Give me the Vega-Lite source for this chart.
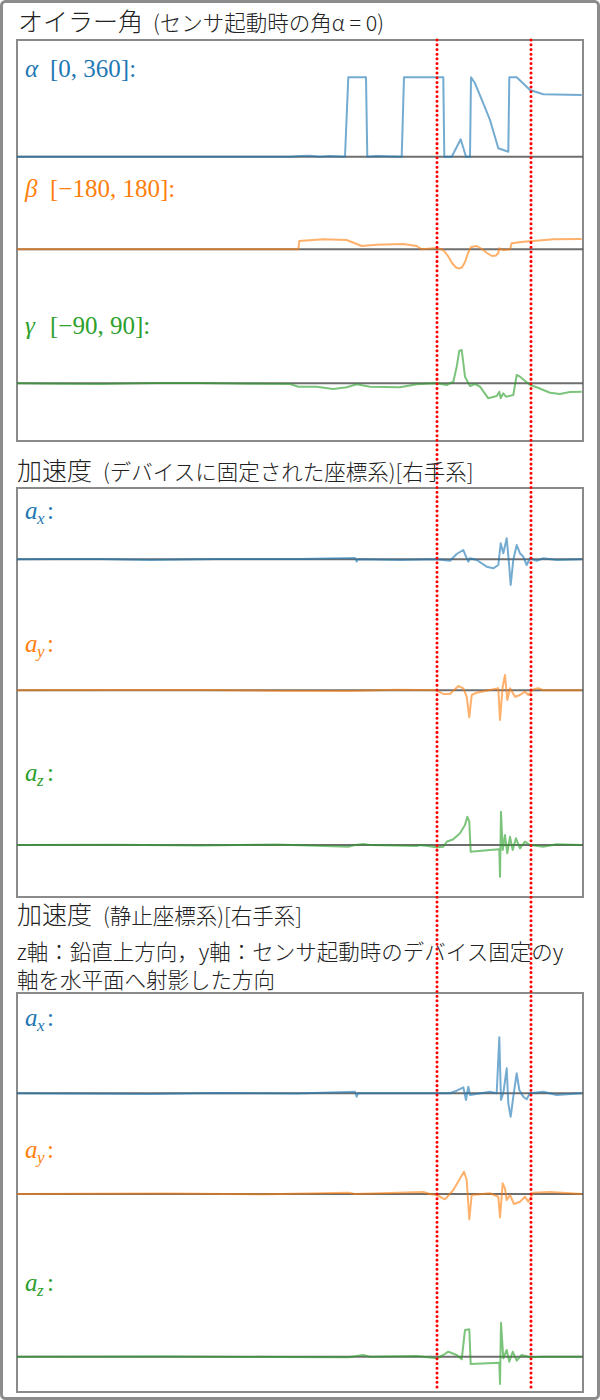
{
"$schema": "https://vega.github.io/schema/vega-lite/v6.json",
"width": 600, "height": 1400,
"autosize": {"type": "fit", "contains": "padding"},
"padding": 0,
"background": "white",
"config": {"view": {"stroke": null}},
"datasets": {
"tracks": [
{"s":"alpha","base":1243.3},{"s":"beta","base":1150.7},{"s":"gamma","base":1016.7},
{"s":"ax1","base":840.7},{"s":"ay1","base":709.7},{"s":"az1","base":555},
{"s":"ax2","base":306.7},{"s":"ay2","base":206},{"s":"az2","base":43.3}],
"panels": [{"p":1,"top":1360,"bot":959},{"p":2,"top":912,"bot":503},{"p":3,"top":407,"bot":8}],
"marks": [{"i":420},{"i":514}],
"bigTitles": [{"txt":"オイラー角","i":1,"y":1369},{"txt":"加速度","i":0,"y":920},{"txt":"加速度","i":0,"y":476}],
"smallTitles": [{"txt":"(センサ起動時の角α = 0)","i":136,"y":1369},{"txt":"(デバイスに固定された座標系)[右手系]","i":86,"y":920},{"txt":"(静止座標系)[右手系]","i":86,"y":476},{"txt":"z軸：鉛直上方向，y軸：センサ起動時のデバイス固定のy","i":0,"y":440},{"txt":"軸を水平面へ射影した方向","i":0,"y":412}],
"glab": [{"s":"alpha","sym":"α","rest":"[0, 360]:","i":8,"y":1323},{"s":"beta","sym":"β","rest":"[−180, 180]:","i":8,"y":1203},{"s":"gamma","sym":"γ","rest":"[−90, 90]:","i":8,"y":1066}],
"alab": [{"s":"ax1","sub":"x","i":8,"y":881},{"s":"ay1","sub":"y","i":8,"y":748},{"s":"az1","sub":"z","i":8,"y":619},{"s":"ax2","sub":"x","i":8,"y":374},{"s":"ay2","sub":"y","i":8,"y":242},{"s":"az2","sub":"z","i":8,"y":109}],
"sig": [
{"s":"alpha","i":0,"v":0},{"s":"alpha","i":273,"v":0},{"s":"alpha","i":283,"v":0.7},{"s":"alpha","i":293,"v":1},{"s":"alpha","i":303,"v":0},{"s":"alpha","i":313,"v":0.8},{"s":"alpha","i":328,"v":0},{"s":"alpha","i":331.3,"v":79.4},{"s":"alpha","i":349,"v":79.4},{"s":"alpha","i":350.3,"v":0},{"s":"alpha","i":360,"v":0.6},{"s":"alpha","i":384.7,"v":0},{"s":"alpha","i":387,"v":79.4},{"s":"alpha","i":426.3,"v":79.4},{"s":"alpha","i":427.3,"v":0},{"s":"alpha","i":434.7,"v":0},{"s":"alpha","i":443.7,"v":17.4},{"s":"alpha","i":449,"v":0},{"s":"alpha","i":453,"v":0},{"s":"alpha","i":454,"v":79.4},{"s":"alpha","i":458,"v":73.4},{"s":"alpha","i":466.3,"v":53.4},{"s":"alpha","i":473,"v":36.7},{"s":"alpha","i":481.3,"v":8.4},{"s":"alpha","i":491.3,"v":5},{"s":"alpha","i":492.3,"v":79.4},{"s":"alpha","i":499.7,"v":79.4},{"s":"alpha","i":513,"v":66.7},{"s":"alpha","i":526.3,"v":62.4},{"s":"alpha","i":564.7,"v":61.7},
{"s":"beta","i":0,"v":0},{"s":"beta","i":281.3,"v":0},{"s":"beta","i":282.3,"v":8.3},{"s":"beta","i":306.3,"v":10},{"s":"beta","i":329.7,"v":9.3},{"s":"beta","i":344.7,"v":3.3},{"s":"beta","i":359.7,"v":4.6},{"s":"beta","i":386.3,"v":5.3},{"s":"beta","i":399.7,"v":3.3},{"s":"beta","i":404.7,"v":0},{"s":"beta","i":419.7,"v":1.3},{"s":"beta","i":426.3,"v":-0.7},{"s":"beta","i":431,"v":-6.7},{"s":"beta","i":435,"v":-13.7},{"s":"beta","i":439,"v":-18.2},{"s":"beta","i":442,"v":-19.2},{"s":"beta","i":445,"v":-18.2},{"s":"beta","i":448,"v":-12.7},{"s":"beta","i":451,"v":-3.7},{"s":"beta","i":454,"v":2.3},{"s":"beta","i":459.7,"v":3.3},{"s":"beta","i":465,"v":0.3},{"s":"beta","i":470,"v":-3.7},{"s":"beta","i":475,"v":-6.7},{"s":"beta","i":479,"v":-6.2},{"s":"beta","i":481.3,"v":-3.7},{"s":"beta","i":482.3,"v":1},{"s":"beta","i":486.3,"v":-0.7},{"s":"beta","i":493,"v":0},{"s":"beta","i":494.7,"v":6},{"s":"beta","i":506.3,"v":7.6},{"s":"beta","i":516.3,"v":8.3},{"s":"beta","i":536.3,"v":10},{"s":"beta","i":564.7,"v":10.3},
{"s":"gamma","i":0,"v":0},{"s":"gamma","i":40,"v":-0.5},{"s":"gamma","i":83,"v":-0.7},{"s":"gamma","i":140,"v":0.3},{"s":"gamma","i":183,"v":0.3},{"s":"gamma","i":230,"v":-0.5},{"s":"gamma","i":273,"v":-0.7},{"s":"gamma","i":281.3,"v":-3.4},{"s":"gamma","i":299.7,"v":-3.4},{"s":"gamma","i":316.3,"v":-5.7},{"s":"gamma","i":329.7,"v":-4},{"s":"gamma","i":339.7,"v":-1},{"s":"gamma","i":353,"v":-3.4},{"s":"gamma","i":383,"v":-4},{"s":"gamma","i":399.7,"v":-1},{"s":"gamma","i":419.7,"v":0},{"s":"gamma","i":429.7,"v":-1.7},{"s":"gamma","i":436.3,"v":1.6},{"s":"gamma","i":439.7,"v":16.6},{"s":"gamma","i":442.3,"v":32.6},{"s":"gamma","i":444.7,"v":33.3},{"s":"gamma","i":448,"v":6.6},{"s":"gamma","i":453,"v":-2.7},{"s":"gamma","i":458,"v":-0.7},{"s":"gamma","i":463,"v":-3.4},{"s":"gamma","i":471.3,"v":-15},{"s":"gamma","i":479.7,"v":-12.7},{"s":"gamma","i":482.3,"v":-8.4},{"s":"gamma","i":483.7,"v":-15},{"s":"gamma","i":486.3,"v":-10},{"s":"gamma","i":489,"v":-13.4},{"s":"gamma","i":496.3,"v":-11.7},{"s":"gamma","i":499.7,"v":8.3},{"s":"gamma","i":503,"v":6.6},{"s":"gamma","i":513,"v":-1.7},{"s":"gamma","i":519.7,"v":-4},{"s":"gamma","i":533,"v":-9.4},{"s":"gamma","i":543,"v":-10.7},{"s":"gamma","i":553,"v":-8.7},{"s":"gamma","i":564.7,"v":-8.4},
{"s":"ax1","i":0,"v":0},{"s":"ax1","i":40,"v":0.4},{"s":"ax1","i":83,"v":0.3},{"s":"ax1","i":133,"v":-0.7},{"s":"ax1","i":200,"v":0.3},{"s":"ax1","i":283,"v":0.3},{"s":"ax1","i":338,"v":1.3},{"s":"ax1","i":339.7,"v":-2.2},{"s":"ax1","i":341,"v":0},{"s":"ax1","i":383,"v":-0.7},{"s":"ax1","i":419.7,"v":0},{"s":"ax1","i":433,"v":-1.4},{"s":"ax1","i":439.7,"v":5.3},{"s":"ax1","i":446.3,"v":9.3},{"s":"ax1","i":449,"v":2.6},{"s":"ax1","i":451.3,"v":-2.4},{"s":"ax1","i":453,"v":1},{"s":"ax1","i":459.7,"v":-0.7},{"s":"ax1","i":469.7,"v":-7.4},{"s":"ax1","i":476.3,"v":-9},{"s":"ax1","i":481.3,"v":-5.7},{"s":"ax1","i":483.7,"v":16},{"s":"ax1","i":486.3,"v":6},{"s":"ax1","i":489.7,"v":21},{"s":"ax1","i":492,"v":-4},{"s":"ax1","i":493.7,"v":-25.7},{"s":"ax1","i":496.3,"v":-0.7},{"s":"ax1","i":499.7,"v":14.3},{"s":"ax1","i":503,"v":6},{"s":"ax1","i":506.3,"v":2.6},{"s":"ax1","i":509.7,"v":-5.7},{"s":"ax1","i":513,"v":1},{"s":"ax1","i":519.7,"v":-1.4},{"s":"ax1","i":526.3,"v":1},{"s":"ax1","i":539.7,"v":-0.7},{"s":"ax1","i":564.7,"v":0},
{"s":"ay1","i":0,"v":0},{"s":"ay1","i":100,"v":0.3},{"s":"ay1","i":183,"v":0.3},{"s":"ay1","i":260,"v":-0.5},{"s":"ay1","i":333,"v":-0.7},{"s":"ay1","i":380,"v":0.5},{"s":"ay1","i":419.7,"v":0},{"s":"ay1","i":426.3,"v":-3.7},{"s":"ay1","i":433,"v":-3.7},{"s":"ay1","i":441.3,"v":4.3},{"s":"ay1","i":446.3,"v":2},{"s":"ay1","i":449.7,"v":-6.4},{"s":"ay1","i":452.3,"v":-27},{"s":"ay1","i":454.7,"v":-4.7},{"s":"ay1","i":459.7,"v":-2.4},{"s":"ay1","i":473,"v":0.3},{"s":"ay1","i":481.3,"v":2},{"s":"ay1","i":483,"v":-29.7},{"s":"ay1","i":485.7,"v":3.6},{"s":"ay1","i":488,"v":15.3},{"s":"ay1","i":490.3,"v":-9.7},{"s":"ay1","i":493,"v":2},{"s":"ay1","i":498,"v":-6.4},{"s":"ay1","i":503,"v":-4.7},{"s":"ay1","i":508,"v":-1.4},{"s":"ay1","i":511.3,"v":-4.7},{"s":"ay1","i":516.3,"v":1},{"s":"ay1","i":521.3,"v":2},{"s":"ay1","i":526.3,"v":0},{"s":"ay1","i":564.7,"v":0},
{"s":"az1","i":0,"v":0},{"s":"az1","i":100,"v":0.3},{"s":"az1","i":183,"v":-0.5},{"s":"az1","i":260,"v":0.4},{"s":"az1","i":331.3,"v":-1.7},{"s":"az1","i":338,"v":0},{"s":"az1","i":346.3,"v":1},{"s":"az1","i":353,"v":0},{"s":"az1","i":399.7,"v":-1},{"s":"az1","i":403,"v":0},{"s":"az1","i":419.7,"v":-2.3},{"s":"az1","i":426.3,"v":-1.7},{"s":"az1","i":429.7,"v":3.3},{"s":"az1","i":436.3,"v":5.7},{"s":"az1","i":443,"v":11.7},{"s":"az1","i":448,"v":20},{"s":"az1","i":450.3,"v":28.3},{"s":"az1","i":452.3,"v":23.3},{"s":"az1","i":453.7,"v":-6.7},{"s":"az1","i":473,"v":-5},{"s":"az1","i":482.3,"v":-4.3},{"s":"az1","i":483,"v":-31.7},{"s":"az1","i":484,"v":33.3},{"s":"az1","i":485.7,"v":-5},{"s":"az1","i":488,"v":10},{"s":"az1","i":490.3,"v":-8.3},{"s":"az1","i":493,"v":8.3},{"s":"az1","i":495.7,"v":-5},{"s":"az1","i":499,"v":6.7},{"s":"az1","i":503,"v":-3.3},{"s":"az1","i":508,"v":3.3},{"s":"az1","i":513,"v":0},{"s":"az1","i":526.3,"v":-1.7},{"s":"az1","i":539.7,"v":0.7},{"s":"az1","i":564.7,"v":0},
{"s":"ax2","i":0,"v":0},{"s":"ax2","i":133,"v":-0.7},{"s":"ax2","i":200,"v":0.4},{"s":"ax2","i":280,"v":-0.3},{"s":"ax2","i":338,"v":1.6},{"s":"ax2","i":339.7,"v":-3.4},{"s":"ax2","i":341,"v":0},{"s":"ax2","i":419.7,"v":0},{"s":"ax2","i":433,"v":0},{"s":"ax2","i":439.7,"v":2.6},{"s":"ax2","i":446.3,"v":6},{"s":"ax2","i":449,"v":-6.7},{"s":"ax2","i":451.3,"v":6.6},{"s":"ax2","i":453,"v":-1.7},{"s":"ax2","i":473,"v":1.6},{"s":"ax2","i":479.7,"v":0},{"s":"ax2","i":482.3,"v":56},{"s":"ax2","i":484,"v":-6.7},{"s":"ax2","i":486.3,"v":0},{"s":"ax2","i":489.7,"v":25},{"s":"ax2","i":491.3,"v":-10},{"s":"ax2","i":493.7,"v":-23.4},{"s":"ax2","i":496.3,"v":-3.4},{"s":"ax2","i":499.7,"v":20},{"s":"ax2","i":502.3,"v":3.3},{"s":"ax2","i":506.3,"v":-3.4},{"s":"ax2","i":509.7,"v":-6},{"s":"ax2","i":513,"v":0},{"s":"ax2","i":526.3,"v":1.6},{"s":"ax2","i":539.7,"v":-1.7},{"s":"ax2","i":564.7,"v":0},
{"s":"ay2","i":0,"v":0},{"s":"ay2","i":150,"v":0.4},{"s":"ay2","i":250,"v":-0.3},{"s":"ay2","i":331.3,"v":1.3},{"s":"ay2","i":338,"v":0},{"s":"ay2","i":406.3,"v":2},{"s":"ay2","i":413,"v":0},{"s":"ay2","i":419.7,"v":-1},{"s":"ay2","i":428,"v":-5.3},{"s":"ay2","i":436.3,"v":4},{"s":"ay2","i":447,"v":22.3},{"s":"ay2","i":449.7,"v":14},{"s":"ay2","i":452.3,"v":-25.3},{"s":"ay2","i":454.7,"v":-1},{"s":"ay2","i":473,"v":0.7},{"s":"ay2","i":481.3,"v":-2.7},{"s":"ay2","i":483,"v":-23.3},{"s":"ay2","i":485.7,"v":10.7},{"s":"ay2","i":488,"v":5.7},{"s":"ay2","i":489.7,"v":-6},{"s":"ay2","i":493,"v":-1},{"s":"ay2","i":497,"v":-10},{"s":"ay2","i":503,"v":-7.7},{"s":"ay2","i":508,"v":-2.7},{"s":"ay2","i":511.3,"v":-7.7},{"s":"ay2","i":516.3,"v":1.3},{"s":"ay2","i":533,"v":2},{"s":"ay2","i":564.7,"v":0},
{"s":"az2","i":0,"v":0},{"s":"az2","i":150,"v":0.3},{"s":"az2","i":260,"v":-0.3},{"s":"az2","i":331.3,"v":-0.6},{"s":"az2","i":346.3,"v":1.7},{"s":"az2","i":353,"v":0},{"s":"az2","i":399.7,"v":0.7},{"s":"az2","i":419.7,"v":-1.6},{"s":"az2","i":426.3,"v":1.7},{"s":"az2","i":431.3,"v":5},{"s":"az2","i":439.7,"v":1.7},{"s":"az2","i":444.7,"v":-2.6},{"s":"az2","i":448,"v":26.7},{"s":"az2","i":452.3,"v":27.4},{"s":"az2","i":453.7,"v":-7.3},{"s":"az2","i":482.3,"v":-6},{"s":"az2","i":483,"v":-27.3},{"s":"az2","i":484,"v":34},{"s":"az2","i":486.3,"v":-1.6},{"s":"az2","i":489.7,"v":6.7},{"s":"az2","i":492.3,"v":-5},{"s":"az2","i":495.7,"v":5},{"s":"az2","i":499.7,"v":-4},{"s":"az2","i":504.7,"v":1.7},{"s":"az2","i":513,"v":-0.6},{"s":"az2","i":526.3,"v":0},{"s":"az2","i":564.7,"v":0}
]
},
"layer": [
{"data": {"values": [{"k": 1}]},
 "mark": {"type": "rect", "fillOpacity": 0, "stroke": "#8c8c8c", "strokeWidth": 3, "cornerRadius": 4},
 "encoding": {
  "x": {"datum": -15.5, "type": "quantitative", "scale": {"domain": [-17, 583], "nice": false, "zero": false}, "axis": null},
  "x2": {"datum": 581.5},
  "y": {"datum": 1.5, "type": "quantitative", "scale": {"domain": [0, 1400], "nice": false, "zero": false}, "axis": null},
  "y2": {"datum": 1398.5}}},
{"data": {"name": "panels"},
 "mark": {"type": "rect", "fillOpacity": 0, "stroke": "#8a8a8a", "strokeWidth": 2},
 "encoding": {
  "x": {"datum": 0, "type": "quantitative"}, "x2": {"datum": 566},
  "y": {"field": "top", "type": "quantitative"}, "y2": {"field": "bot"}}},
{"data": {"name": "tracks"},
 "mark": {"type": "rule", "color": "#555555", "strokeWidth": 2, "opacity": 0.85},
 "encoding": {
  "x": {"datum": 0, "type": "quantitative"}, "x2": {"datum": 566},
  "y": {"field": "base", "type": "quantitative"}}},
{"data": {"name": "sig"},
 "transform": [
  {"lookup": "s", "from": {"data": {"name": "tracks"}, "key": "s", "fields": ["base"]}},
  {"calculate": "datum.base + datum.v", "as": "yy"}],
 "mark": {"type": "line", "strokeWidth": 2, "opacity": 0.62, "strokeJoin": "round"},
 "encoding": {
  "x": {"field": "i", "type": "quantitative"},
  "y": {"field": "yy", "type": "quantitative"},
  "color": {"field": "s", "type": "nominal", "legend": null,
   "scale": {"domain": ["alpha","beta","gamma","ax1","ay1","az1","ax2","ay2","az2"],
             "range": ["#1f77b4","#ff7f0e","#2ca02c","#1f77b4","#ff7f0e","#2ca02c","#1f77b4","#ff7f0e","#2ca02c"]}}}},
{"data": {"name": "marks"},
 "mark": {"type": "rule", "color": "#ff0000", "strokeWidth": 3, "strokeCap": "round", "strokeDash": [0.01, 4.7]},
 "encoding": {
  "x": {"field": "i", "type": "quantitative"},
  "y": {"datum": 1360, "type": "quantitative"}, "y2": {"datum": 10}}},
{"data": {"name": "bigTitles"},
 "mark": {"type": "text", "font": "Noto Sans CJK JP", "fontSize": 25, "fontWeight": 300, "color": "#222222", "align": "left", "baseline": "alphabetic"},
 "encoding": {"x": {"field": "i", "type": "quantitative"}, "y": {"field": "y", "type": "quantitative"}, "text": {"field": "txt"}}},
{"data": {"name": "smallTitles"},
 "mark": {"type": "text", "font": "Noto Sans CJK JP", "fontSize": 21.5, "fontWeight": 300, "color": "#222222", "align": "left", "baseline": "alphabetic"},
 "encoding": {"x": {"field": "i", "type": "quantitative"}, "y": {"field": "y", "type": "quantitative"}, "text": {"field": "txt"}}},
{"data": {"name": "glab"},
 "mark": {"type": "text", "font": "Liberation Serif", "fontSize": 25, "fontStyle": "italic", "align": "left", "baseline": "alphabetic"},
 "encoding": {"x": {"field": "i", "type": "quantitative"}, "y": {"field": "y", "type": "quantitative"}, "text": {"field": "sym"},
  "color": {"field": "s", "type": "nominal", "legend": null}}},
{"data": {"name": "glab"},
 "mark": {"type": "text", "font": "Liberation Serif", "fontSize": 25, "align": "left", "baseline": "alphabetic", "dx": 25},
 "encoding": {"x": {"field": "i", "type": "quantitative"}, "y": {"field": "y", "type": "quantitative"}, "text": {"field": "rest"},
  "color": {"field": "s", "type": "nominal", "legend": null}}},
{"data": {"name": "alab"},
 "mark": {"type": "text", "font": "Liberation Serif", "fontSize": 25, "fontStyle": "italic", "align": "left", "baseline": "alphabetic"},
 "encoding": {"x": {"field": "i", "type": "quantitative"}, "y": {"field": "y", "type": "quantitative"}, "text": {"value": "a"},
  "color": {"field": "s", "type": "nominal", "legend": null}}},
{"data": {"name": "alab"},
 "mark": {"type": "text", "font": "Liberation Serif", "fontSize": 17, "fontStyle": "italic", "align": "left", "baseline": "alphabetic", "dx": 12, "dy": 5},
 "encoding": {"x": {"field": "i", "type": "quantitative"}, "y": {"field": "y", "type": "quantitative"}, "text": {"field": "sub"},
  "color": {"field": "s", "type": "nominal", "legend": null}}},
{"data": {"name": "alab"},
 "mark": {"type": "text", "font": "Liberation Serif", "fontSize": 25, "align": "left", "baseline": "alphabetic", "dx": 22},
 "encoding": {"x": {"field": "i", "type": "quantitative"}, "y": {"field": "y", "type": "quantitative"}, "text": {"value": ":"},
  "color": {"field": "s", "type": "nominal", "legend": null}}}
]
}
